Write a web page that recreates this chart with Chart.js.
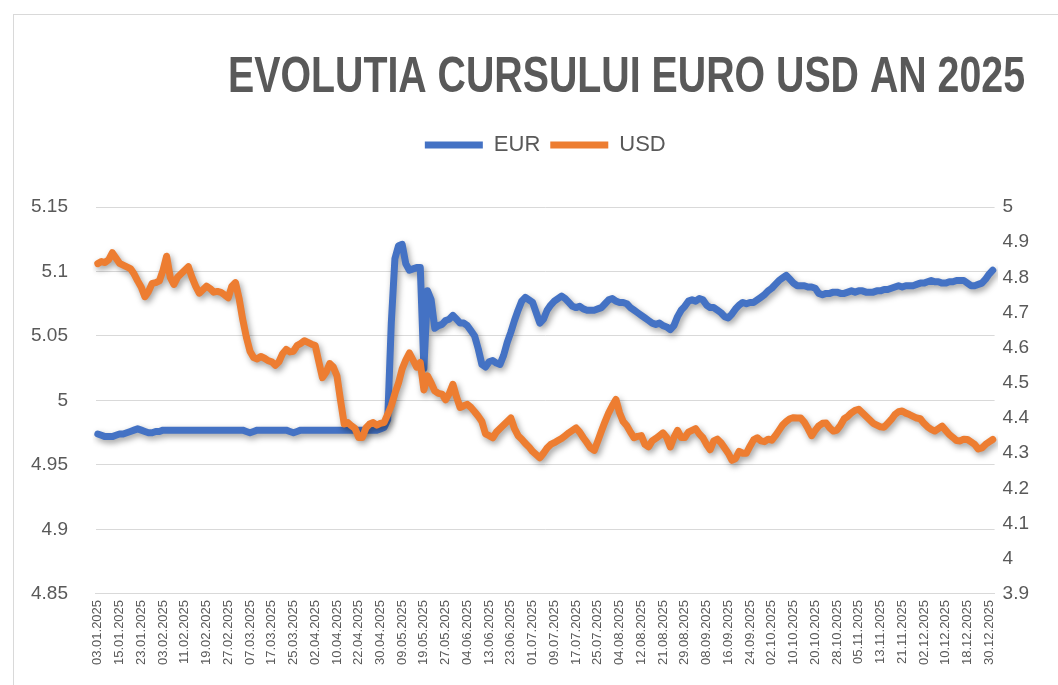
<!DOCTYPE html>
<html>
<head>
<meta charset="utf-8">
<script src="https://cdn.jsdelivr.net/npm/chart.js@4.4.1/dist/chart.umd.min.js"></script>
<style>
  html, body { margin: 0; padding: 0; background: #fff; }
  #wrap { position: relative; width: 1058px; height: 685px; }
  #frame { position: absolute; left: 13px; top: 14px; right: 0; bottom: 0; border-top: 1px solid #d9d9d9; border-left: 1px solid #d9d9d9; pointer-events: none; }
</style>
</head>
<body>
<div id="wrap">
  <canvas id="chart" width="1058" height="685"></canvas>
  <div id="frame"></div>
</div>
<script>
const TITLE = "EVOLUTIA CURSULUI EURO USD AN 2025";

// Zilele bancare 2025 (pe luni)
const YEAR = 2025;
const MONTH_DAYS = [
  [3,8,9,10,13,14,15,16,17,20,21,22,23,27,28,29,30,31],
  [3,4,5,6,7,10,11,12,13,14,17,18,19,20,21,24,25,26,27,28],
  [3,4,5,6,7,10,11,12,13,14,17,18,19,20,21,24,25,26,27,28,31],
  [1,2,3,4,7,8,9,10,11,14,15,16,17,22,23,24,25,28,29,30],
  [2,5,6,7,8,9,12,13,14,15,16,19,20,21,22,23,26,27,28,29,30],
  [2,3,4,5,6,10,11,12,13,16,17,18,19,20,23,24,25,26,27,30],
  [1,2,3,4,7,8,9,10,11,14,15,16,17,18,21,22,23,24,25,28,29,30,31],
  [1,4,5,6,7,8,11,12,13,14,18,19,20,21,22,25,26,27,28,29],
  [1,2,3,4,5,8,9,10,11,12,15,16,17,18,19,22,23,24,25,26,29,30],
  [1,2,3,6,7,8,9,10,13,14,15,16,17,20,21,22,23,24,27,28,29,30,31],
  [3,4,5,6,7,10,11,12,13,14,17,18,19,20,21,24,25,26,27,28],
  [2,3,4,5,8,9,10,11,12,15,16,17,18,19,22,23,24,29,30,31]
];
const LABEL_STEP = 6;

// Curs EUR (axa stanga)
const EUR = [
  4.974,4.973,4.972,4.972,4.972,4.973,4.974,4.974,4.975,4.976,4.977,4.978,
  4.977,4.976,4.975,4.975,4.976,4.976,4.977,4.977,4.977,4.977,4.977,4.977,
  4.977,4.977,4.977,4.977,4.977,4.977,4.977,4.977,4.977,4.977,4.977,4.977,
  4.977,4.977,4.977,4.977,4.977,4.976,4.975,4.976,4.977,4.977,4.977,4.977,
  4.977,4.977,4.977,4.977,4.977,4.976,4.975,4.976,4.977,4.977,4.977,4.977,
  4.977,4.977,4.977,4.977,4.977,4.977,4.977,4.977,4.977,4.977,4.977,4.977,
  4.977,4.977,4.977,4.977,4.977,4.977,4.978,4.979,4.985,5.060,5.110,5.120,
  5.121,5.106,5.101,5.102,5.103,5.103,5.025,5.085,5.078,5.056,5.058,5.059,
  5.062,5.063,5.066,5.063,5.060,5.060,5.058,5.054,5.050,5.040,5.028,5.026,
  5.030,5.031,5.029,5.028,5.035,5.045,5.053,5.062,5.070,5.077,5.080,5.078,
  5.076,5.068,5.060,5.063,5.070,5.074,5.077,5.079,5.081,5.079,5.076,5.073,
  5.072,5.073,5.071,5.070,5.070,5.070,5.071,5.072,5.075,5.078,5.079,5.077,
  5.076,5.076,5.075,5.072,5.070,5.068,5.066,5.064,5.062,5.060,5.059,5.060,
  5.058,5.057,5.055,5.058,5.065,5.070,5.073,5.077,5.078,5.077,5.079,5.078,
  5.074,5.072,5.072,5.070,5.068,5.065,5.064,5.067,5.071,5.074,5.076,5.075,
  5.076,5.076,5.078,5.080,5.082,5.085,5.087,5.090,5.093,5.095,5.097,5.094,
  5.091,5.089,5.089,5.089,5.088,5.088,5.087,5.083,5.082,5.083,5.083,5.084,
  5.084,5.083,5.083,5.084,5.085,5.084,5.085,5.085,5.084,5.084,5.084,5.085,
  5.085,5.086,5.086,5.087,5.088,5.089,5.088,5.089,5.089,5.089,5.090,5.091,
  5.091,5.092,5.093,5.092,5.092,5.091,5.091,5.092,5.092,5.093,5.093,5.093,
  5.091,5.089,5.089,5.090,5.091,5.094,5.098,5.101
];

// Curs USD (axa dreapta)
const USD = [
  4.839,4.845,4.842,4.850,4.870,4.855,4.840,4.835,4.830,4.825,4.810,4.790,
  4.772,4.745,4.760,4.783,4.785,4.790,4.820,4.860,4.800,4.780,4.800,4.810,
  4.820,4.830,4.800,4.775,4.755,4.765,4.775,4.768,4.758,4.760,4.757,4.750,
  4.742,4.775,4.785,4.740,4.680,4.630,4.590,4.572,4.568,4.575,4.570,4.563,
  4.560,4.550,4.560,4.583,4.595,4.588,4.590,4.606,4.612,4.620,4.615,4.610,
  4.606,4.560,4.515,4.530,4.555,4.545,4.520,4.450,4.383,4.387,4.378,4.370,
  4.345,4.345,4.372,4.383,4.387,4.380,4.385,4.387,4.410,4.435,4.470,4.500,
  4.540,4.565,4.585,4.565,4.545,4.558,4.480,4.520,4.500,4.477,4.470,4.468,
  4.452,4.470,4.496,4.460,4.430,4.435,4.439,4.430,4.418,4.405,4.390,4.355,
  4.350,4.344,4.360,4.370,4.380,4.390,4.400,4.370,4.350,4.340,4.328,4.318,
  4.305,4.296,4.287,4.300,4.315,4.325,4.330,4.336,4.342,4.350,4.358,4.365,
  4.372,4.360,4.344,4.330,4.315,4.308,4.335,4.363,4.390,4.415,4.435,4.453,
  4.415,4.390,4.378,4.360,4.344,4.348,4.350,4.325,4.318,4.335,4.342,4.350,
  4.358,4.345,4.318,4.345,4.365,4.345,4.345,4.360,4.365,4.370,4.355,4.344,
  4.325,4.310,4.335,4.340,4.330,4.315,4.300,4.280,4.285,4.305,4.300,4.300,
  4.320,4.338,4.344,4.335,4.333,4.340,4.337,4.350,4.365,4.380,4.390,4.398,
  4.401,4.400,4.400,4.388,4.370,4.350,4.365,4.378,4.385,4.386,4.372,4.363,
  4.366,4.380,4.398,4.405,4.415,4.422,4.425,4.415,4.405,4.395,4.385,4.380,
  4.375,4.374,4.385,4.396,4.410,4.418,4.420,4.414,4.410,4.405,4.400,4.398,
  4.385,4.375,4.368,4.363,4.370,4.377,4.365,4.353,4.345,4.336,4.335,4.340,
  4.339,4.332,4.325,4.312,4.315,4.325,4.332,4.339
];

const pad2 = n => String(n).padStart(2, "0");
const LABELS = [];
MONTH_DAYS.forEach((days, m) => {
  days.forEach(d => LABELS.push(`${pad2(d)}.${pad2(m + 1)}.${YEAR}`));
});

const GREY = "#595959";
const GRID = "#d9d9d9";
const FONT = "'Liberation Sans', Arial, sans-serif";

// umbra sub linii (ca in Excel)
const lineShadow = {
  id: "lineShadow",
  beforeDatasetDraw(chart) {
    const c = chart.ctx;
    c.save();
    c.shadowColor = "rgba(0,0,0,0.38)";
    c.shadowBlur = 6;
    c.shadowOffsetX = 2;
    c.shadowOffsetY = 3;
  },
  afterDatasetDraw(chart) {
    chart.ctx.restore();
  }
};

// spatiu suplimentar sub legenda
const legendGap = {
  id: "legendGap",
  beforeInit(chart) {
    const fit = chart.legend.fit;
    chart.legend.fit = function () {
      fit.bind(chart.legend)();
      this.height += 41;
    };
  }
};

// titlu ingust (ca fontul Calibri din Excel)
const narrowTitle = {
  id: "narrowTitle",
  afterDraw(chart) {
    const c = chart.ctx;
    c.save();
    c.font = "bold 50px " + FONT;
    c.fillStyle = GREY;
    c.textAlign = "right";
    c.textBaseline = "alphabetic";
    const w = c.measureText(TITLE).width;
    c.translate(1025, 92);
    c.scale(797 / w, 1);
    c.fillText(TITLE, 0, 0);
    c.restore();
  }
};

const fmt = v => String(+Number(v).toFixed(2));

new Chart(document.getElementById("chart"), {
  type: "line",
  data: {
    labels: LABELS,
    datasets: [
      { label: "EUR", data: EUR, yAxisID: "y", borderColor: "#4472C4", backgroundColor: "#4472C4", borderWidth: 7, order: 1 },
      { label: "USD", data: USD, yAxisID: "y1", borderColor: "#ED7D31", backgroundColor: "#ED7D31", borderWidth: 7, order: 0 }
    ]
  },
  options: {
    responsive: false,
    animation: false,
    layout: { padding: { left: 3, right: 21, top: 124, bottom: 14 } },
    elements: {
      point: { radius: 0 },
      line: { tension: 0, borderJoinStyle: "round", borderCapStyle: "round" }
    },
    plugins: {
      tooltip: { enabled: false },
      title: { display: false },
      legend: {
        display: true,
        position: "top",
        fullSize: false,
        labels: {
          color: GREY,
          font: { family: FONT, size: 22 },
          usePointStyle: true,
          pointStyle: "line",
          pointStyleWidth: 58,
          boxHeight: 22,
          padding: 10,
          sort: (a, b) => a.datasetIndex - b.datasetIndex
        }
      }
    },
    scales: {
      x: {
        offset: true,
        grid: { display: false, drawTicks: false },
        border: { display: true, color: GRID, width: 1 },
        ticks: {
          autoSkip: false,
          minRotation: 90,
          maxRotation: 90,
          padding: 6,
          color: GREY,
          font: { family: FONT, size: 13 },
          callback: (v, i) => (i % LABEL_STEP === 0 ? LABELS[i] : "")
        }
      },
      y: {
        position: "left",
        min: 4.85,
        max: 5.15,
        grid: { color: GRID, lineWidth: 1, drawTicks: false },
        border: { display: false },
        ticks: {
          stepSize: 0.05,
          padding: 28,
          color: GREY,
          font: { family: FONT, size: 19 },
          callback: fmt
        }
      },
      y1: {
        position: "right",
        min: 3.9,
        max: 5,
        grid: { display: false, drawTicks: false },
        border: { display: false },
        ticks: {
          stepSize: 0.1,
          padding: 8,
          color: GREY,
          font: { family: FONT, size: 19 },
          callback: fmt
        }
      }
    }
  },
  plugins: [lineShadow, legendGap, narrowTitle]
});
</script>
</body>
</html>
